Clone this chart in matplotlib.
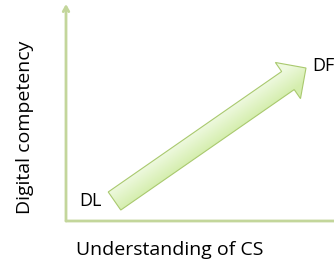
import numpy as np
import matplotlib
matplotlib.use("Agg")
import matplotlib.pyplot as plt
from matplotlib.patches import FancyArrow
from matplotlib.colors import LinearSegmentedColormap

# diagram content (pixel space of the 334x265 canvas)
x_label = "Understanding of CS"
y_label = "Digital competency"
start_label = "DL"
end_label = "DF"
origin = (66, 221)
axis_ends = {"x": (345, 221), "y": (66, 4)}
arrow_tail = (114.5, 201)
arrow_tip = (306, 68)

axis_color = "#c3d69b"
arrow_edge = "#a9c96e"

fig = plt.figure(figsize=(3.34, 2.65), dpi=100)
ax = fig.add_axes([0, 0, 1, 1])
ax.set_xlim(0, 334)
ax.set_ylim(265, 0)
ax.axis("off")

# axes of the diagram
for key in ("x", "y"):
    ax.annotate("", xy=axis_ends[key], xytext=origin, annotation_clip=False,
                arrowprops=dict(arrowstyle="->,head_length=0.35,head_width=0.2",
                                color=axis_color, lw=2, shrinkA=0, shrinkB=0))

# big block arrow, shaded across its width
dx = arrow_tip[0] - arrow_tail[0]
dy = arrow_tip[1] - arrow_tail[1]
arr = FancyArrow(arrow_tail[0], arrow_tail[1], dx, dy, width=22, head_width=44,
                 head_length=22, length_includes_head=True,
                 facecolor="none", edgecolor=arrow_edge, lw=0.8, zorder=3)
ax.add_patch(arr)
xx, yy = np.meshgrid(np.arange(334) + 0.5, np.arange(265) + 0.5)
n = np.hypot(dx, dy)
# signed distance from the arrow's centre line (negative = upper side)
d = ((xx - arrow_tail[0]) * dy - (yy - arrow_tail[1]) * dx) / n
shade = np.clip((d + 11) / 22, 0, 1)
cmap = LinearSegmentedColormap.from_list("g", ["#d5eeae", "#eef9df"])
im = ax.imshow(shade, extent=(0, 334, 265, 0), cmap=cmap, aspect="auto", zorder=2,
               interpolation="bilinear")
im.set_clip_path(arr)
ax.set_xlim(0, 334)
ax.set_ylim(265, 0)

font = "Open Sans"
ax.text(79, 201, start_label, fontsize=13, family=font, va="center", ha="left")
ax.text(312, 66, end_label, fontsize=13, family=font, va="center", ha="left")
ax.text(170, 250, x_label, fontsize=14, family=font, va="center", ha="center")
ax.text(25, 127, y_label, fontsize=14, family=font, va="center", ha="center",
        rotation=90)

fig.savefig("out.png", dpi=100)
